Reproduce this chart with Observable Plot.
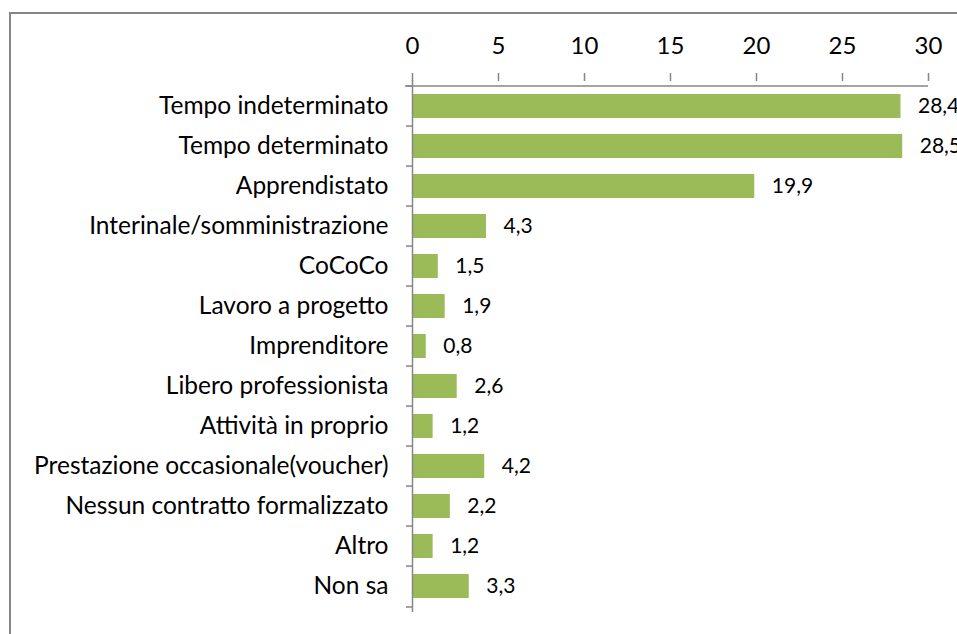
<!DOCTYPE html>
<html><head><meta charset="utf-8">
<script src="https://cdn.jsdelivr.net/npm/d3@7"></script>
<script src="https://cdn.jsdelivr.net/npm/@observablehq/plot@0.6"></script>
<style>
body{margin:0;background:#fff;overflow:hidden}
#wrap{position:relative;width:957px;height:634px;overflow:hidden;background:#fff}
#box{position:absolute;left:9px;top:12px;width:1200px;height:900px;border-left:2px solid #868686;border-top:2px solid #868686;box-sizing:border-box}
#chart{position:absolute;left:0;top:0}
</style></head><body>
<div id="wrap"><div id="box"></div><div id="chart"></div></div>
<script>
const categories = [
  "Tempo indeterminato",
  "Tempo determinato",
  "Apprendistato",
  "Interinale/somministrazione",
  "CoCoCo",
  "Lavoro a progetto",
  "Imprenditore",
  "Libero professionista",
  "Attività in proprio",
  "Prestazione occasionale(voucher)",
  "Nessun contratto formalizzato",
  "Altro",
  "Non sa"
];
const values = [28.4, 28.5, 19.9, 4.3, 1.5, 1.9, 0.8, 2.6, 1.2, 4.2, 2.2, 1.2, 3.3];
const xTicks = [0, 5, 10, 15, 20, 25, 30];
const xDomain = [0, 30];

const data = categories.map((c, i) => ({category: c, value: values[i]}));
const W = 957, H = 634, mL = 412, mR = 29, mT = 80, mB = 22;
const step = (H - mT - mB) / categories.length;
const first = categories[0];
const last = categories[categories.length - 1];
const axisColor = "#868686";

const plot = Plot.plot({
  width: W, height: H,
  marginLeft: mL, marginRight: mR, marginTop: mT, marginBottom: mB,
  style: {fontFamily: "Lato, sans-serif", fontSize: "24.5px", color: "#000", background: "transparent", overflow: "visible"},
  x: {domain: xDomain, ticks: xTicks},
  y: {domain: categories, paddingInner: 0.41, paddingOuter: 0.205},
  marks: [
    Plot.barX(data, {x: "value", y: "category", fill: "#9BBB59"}),
    Plot.text(data, {x: "value", y: "category", text: d => d.value.toFixed(1).replace(".", ","), textAnchor: "start", dx: 17, fontSize: 21, fill: "#000"}),
    Plot.axisX({anchor: "top", ticks: xTicks, tickSize: 8, tickPadding: 19, stroke: axisColor, strokeWidth: 1.5, fill: "#000", fontSize: 24, label: null, tickFormat: d => String(d)}),
    Plot.axisY({tickSize: 0, tickPadding: 24, fontSize: 24.5, label: null, fill: "#000"}),
    Plot.ruleX([0], {stroke: axisColor, strokeWidth: 1.5}),
    Plot.ruleY([first], {y: d => d, x1: xDomain[0], x2: xDomain[1], insetLeft: -7, dy: -step / 2, stroke: axisColor, strokeWidth: 1.5}),
    Plot.ruleY(categories, {y: d => d, x1: 0, x2: 0, insetLeft: -6, dy: -step / 2, stroke: axisColor, strokeWidth: 1.5}),
    Plot.ruleY([last], {y: d => d, x1: 0, x2: 0, insetLeft: -6, dy: step / 2, stroke: axisColor, strokeWidth: 1.5})
  ]
});
document.getElementById("chart").appendChild(plot);
</script>
</body></html>
